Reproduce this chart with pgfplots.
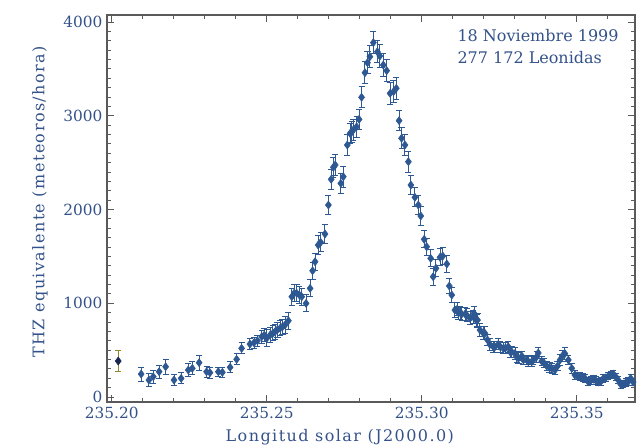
\documentclass[border=0pt]{standalone}
\usepackage{pgfplots}
\pgfplotsset{compat=1.18}
\usepackage{pgfplotstable}
\usepackage{fontspec}
\setmainfont{DejaVu Serif}
\newfontfamily\lblfont[LetterSpace=9]{DejaVu Serif}
\definecolor{ptblue}{RGB}{46,88,145}
\definecolor{txtblue}{RGB}{52,82,138}
\definecolor{navy}{RGB}{25,38,80}
\definecolor{axgray}{RGB}{90,90,90}
% x = (longitud - 235.2) * 1000
\pgfplotstableread{
x y e
9.5 245 75
12.0 181 70
13.4 217 70
15.3 270 70
17.4 323 80
20.1 181 60
22.4 199 60
24.7 288 70
26.0 306 70
28.2 366 80
30.6 270 60
31.7 259 60
34.4 270 50
35.7 263 50
38.2 317 60
40.3 402 60
41.9 519 60
44.6 565 60
45.9 579 60
47.0 600 60
48.4 643 70
49.2 660 70
50.0 626 90
51.1 661 80
52.0 680 80
52.7 697 80
53.5 720 80
54.3 733 80
55.1 750 80
55.9 768 90
57.0 814 90
58.1 1070 90
58.9 1110 90
59.7 1106 90
60.5 1090 90
61.3 1070 90
62.7 999 90
64.0 1159 90
64.8 1347 90
65.6 1443 90
66.6 1621 100
67.4 1650 100
68.8 1739 100
69.9 2048 100
70.8 2322 110
71.5 2450 110
72.1 2475 110
73.9 2279 110
74.7 2350 110
76.0 2688 110
76.9 2812 110
77.5 2830 110
77.9 2848 110
79.0 2883 110
79.8 2962 110
80.6 3197 110
81.7 3459 120
82.5 3566 120
83.3 3630 120
84.4 3780 120
85.7 3683 120
86.5 3637 120
87.6 3541 120
88.7 3481 120
89.8 3239 120
90.9 3257 120
91.8 3293 120
92.7 2948 110
93.5 2760 110
94.6 2688 110
95.7 2510 110
96.5 2261 100
97.8 2130 100
98.9 2048 100
99.7 1931 100
100.8 1682 90
101.6 1603 90
102.9 1479 90
103.7 1283 90
104.6 1373 90
105.9 1490 90
106.8 1504 90
108.1 1419 90
108.9 1184 80
109.7 1088 80
110.7 928 80
111.4 935 70
111.8 900 70
112.4 899 70
112.9 885 70
114.0 885 70
114.5 875 70
115.6 839 70
116.6 857 70
116.9 893 70
117.7 814 70
118.0 821 70
118.8 715 70
119.9 679 70
120.4 679 70
121.2 610 60
122.0 560 60
123.1 537 60
123.6 535 60
124.7 562 60
125.3 537 60
126.3 519 60
126.9 519 60
127.9 537 60
128.5 483 60
129.0 483 60
130.1 465 60
130.6 430 60
131.2 413 60
132.3 437 50
132.8 395 50
133.9 395 50
134.4 377 50
135.5 377 50
136.0 395 50
137.1 430 60
137.6 470 60
138.7 382 50
139.5 360 50
140.3 332 50
141.2 315 50
141.9 306 50
143.0 288 50
143.8 330 50
144.6 395 60
145.4 440 60
146.2 463 60
147.3 395 50
148.4 306 50
149.4 235 50
150.2 225 40
151.0 217 40
151.9 210 40
152.7 199 40
153.7 163 40
154.5 175 40
155.4 190 40
156.2 175 40
157.0 160 40
157.8 165 40
158.6 199 40
159.4 205 40
160.2 224 40
161.0 235 40
161.8 245 40
162.6 215 40
163.4 181 40
164.2 135 40
165.0 139 40
165.8 153 40
166.6 163 40
167.4 199 40
168.2 160 40
}\leonidas
\pgfplotstableread{
x y e
2.1 384 115
}\firstpt
\begin{document}
\begin{tikzpicture}
\path[use as bounding box] (0pt,0pt) rectangle (480pt,336pt);
\begin{axis}[
  at={(80.25pt,34.5pt)}, anchor=south west,
  scale only axis, width=396pt, height=290.25pt,
  xmin=-1.52, xmax=168.8, ymin=-53, ymax=4075,
  xtick={0,50,100,150},
  xticklabels={235.20,235.25,235.30,235.35},
  minor xtick={10,20,30,40,60,70,80,90,110,120,130,140,160},
  ytick={0,1000,2000,3000,4000},
  minor y tick num=9,
  tick pos=both,
  major tick length=5pt, minor tick length=3pt,
  axis line style={axgray, line width=0.9pt},
  every tick/.style={axgray, line width=0.6pt},
  /pgf/number format/assume math mode=true,
  /pgf/number format/set thousands separator={},
  scaled y ticks=false,
  tick label style={font=\fontsize{11.5}{13}\selectfont, color=txtblue},
  xlabel={Longitud solar (J2000.0)},
  ylabel={THZ equivalente (meteoros/hora)},
  label style={font=\lblfont\fontsize{12}{14}\selectfont, color=txtblue},
  xlabel style={at={(axis description cs:0.441,-0.09)}, anchor=center},
  ylabel style={at={(axis description cs:-0.127,0.517)}, anchor=center},
  clip=false,
]
\addplot[only marks, mark=diamond*, mark size=3pt, color=ptblue,
  error bars/.cd, y dir=both, y explicit,
  error bar style={line width=0.75pt, color=ptblue},
  error mark options={rotate=90, mark size=2.3pt, line width=0.75pt, color=ptblue}]
  table[x=x, y=y, y error=e] {\leonidas};
\addplot[only marks, mark=diamond*, mark size=3pt, color=navy,
  error bars/.cd, y dir=both, y explicit,
  error bar style={line width=0.6pt, color=olive!70!gray},
  error mark options={rotate=90, mark size=2.2pt, line width=0.6pt, color=olive!70!gray}]
  table[x=x, y=y, y error=e] {\firstpt};
\node[anchor=west, font=\fontsize{12}{14}\selectfont, color=txtblue] at (axis description cs:0.655,0.948) {18 Noviembre 1999};
\node[anchor=west, font=\fontsize{12}{14}\selectfont, color=txtblue] at (axis description cs:0.655,0.891) {277 172 Leonidas};
\end{axis}
\end{tikzpicture}
\end{document}
